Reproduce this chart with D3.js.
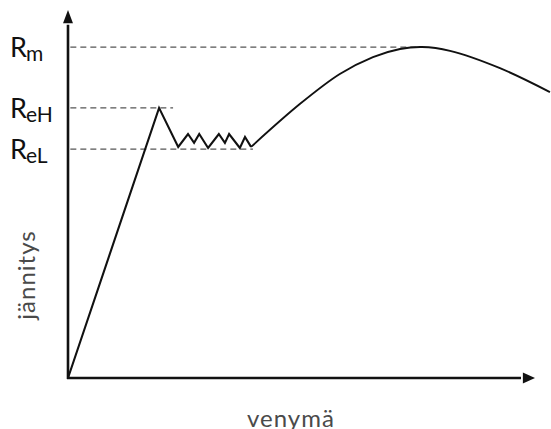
<!DOCTYPE html>
<html><head><meta charset="utf-8">
<script src="https://cdn.jsdelivr.net/npm/d3@7"></script>
<style>html,body{margin:0;padding:0;background:#fff;overflow:hidden}</style>
</head><body>
<svg id="c" width="551" height="429"></svg>
<script>
// strain (x) / stress (y) in arbitrary units
const elasticX = [0, 19.5, 23.6, 25.7, 27.0, 28.1, 30.0, 32.3, 33.6, 34.5, 36.8, 37.9, 39.2];
const elasticY = [0, 73.4, 62.8, 66.3, 63.9, 66.3, 62.5, 66.3, 63.9, 66.3, 62.5, 65.5, 62.8];
const hardeningX = [39.2, 49.7, 58.2, 65.3, 71.1, 75.8, 81.8, 92.5, 103.2];
const hardeningY = [62.8, 74.5, 82.6, 87.2, 89.4, 89.95, 88.9, 84.2, 77.7];
const levelNames = ["m", "eH", "eL"];
const levelValues = [89.9, 73.4, 62.2];
const levelEnds = [74.7, 22.5, 39.6];
const xLabel = "venymä";
const yLabel = "jännitys";

const svg = d3.select("#c");
const x = d3.scaleLinear().domain([0, 100]).range([68, 535]);
const y = d3.scaleLinear().domain([0, 100]).range([378, 10]);

// dashed reference lines
levelValues.forEach((v, i) => {
  svg.append("line")
    .attr("x1", x(0.5)).attr("x2", x(levelEnds[i]))
    .attr("y1", y(v)).attr("y2", y(v))
    .attr("stroke", "#555").attr("stroke-width", 1.4)
    .attr("stroke-dasharray", "6,4");
});

// axes
svg.append("line").attr("x1", x(0)).attr("x2", x(0)).attr("y1", y(0) + 1).attr("y2", y(96))
  .attr("stroke", "#111").attr("stroke-width", 2.6);
svg.append("line").attr("x1", x(0) - 1).attr("x2", x(97)).attr("y1", y(0)).attr("y2", y(0))
  .attr("stroke", "#111").attr("stroke-width", 2.6);
// arrowheads
svg.append("path").attr("d", `M${x(0)},${y(100)} L${x(0)-5},${y(96.4)} L${x(0)+5},${y(96.4)} Z`).attr("fill", "#111");
svg.append("path").attr("d", `M${x(100)},${y(0)} L${x(97.4)},${y(0)-5.5} L${x(97.4)},${y(0)+5.5} Z`).attr("fill", "#111");

// curve
const lin = d3.line().x(d => x(d[0])).y(d => y(d[1]));
svg.append("path").attr("d", lin(elasticX.map((v, i) => [v, elasticY[i]])))
  .attr("fill", "none").attr("stroke", "#111").attr("stroke-width", 2.1).attr("stroke-linejoin", "miter");
const smooth = d3.line().x(d => x(d[0])).y(d => y(d[1])).curve(d3.curveCatmullRom.alpha(0.5));
svg.append("path").attr("d", smooth(hardeningX.map((v, i) => [v, hardeningY[i]])))
  .attr("fill", "none").attr("stroke", "#111").attr("stroke-width", 1.9);

// level labels
levelValues.forEach((v, i) => {
  const t = svg.append("text").attr("x", 10).attr("y", y(v) + 10)
    .attr("font-family", "Lato, sans-serif").attr("fill", "#111");
  t.append("tspan").attr("font-size", 27).text("R");
  t.append("tspan").attr("font-size", 21).attr("dy", 4).attr("dx", -1).text(levelNames[i]);
});

// axis titles
svg.append("text").attr("transform", `translate(35,275) rotate(-90)`)
  .attr("text-anchor", "middle").attr("font-family", "Lato, sans-serif")
  .attr("font-size", 24).attr("letter-spacing", 1).attr("fill", "#4a4a4a").text(yLabel);
svg.append("text").attr("x", 291).attr("y", 427)
  .attr("text-anchor", "middle").attr("font-family", "Lato, sans-serif")
  .attr("font-size", 24).attr("letter-spacing", 1).attr("fill", "#4a4a4a").text(xLabel);
</script>
</body></html>
